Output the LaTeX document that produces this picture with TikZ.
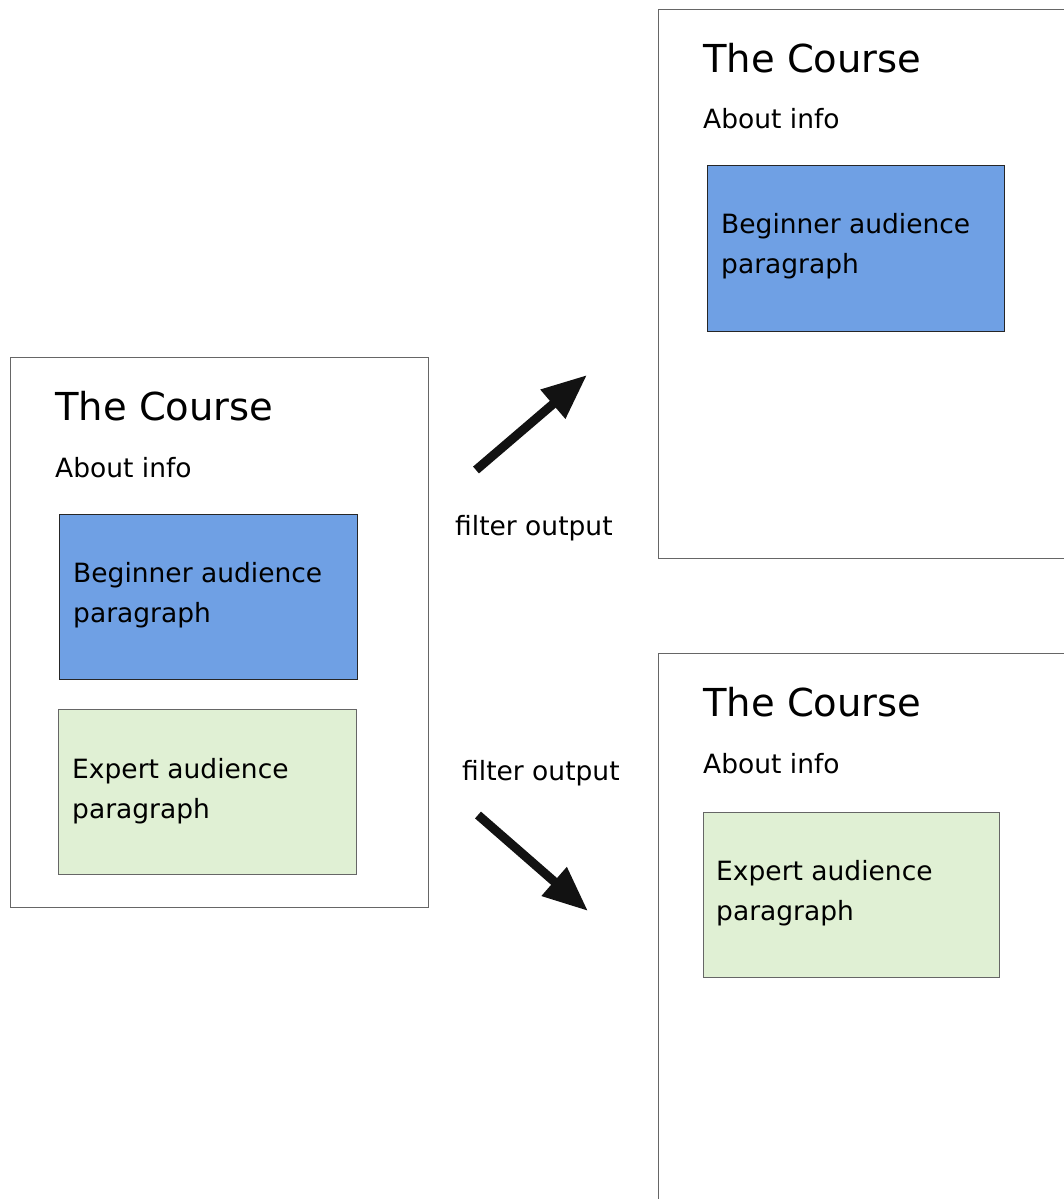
\documentclass[tikz,border=0pt]{standalone}
\usepackage{fontspec}
\setmainfont{DejaVu Sans}
\usetikzlibrary{arrows.meta}
\definecolor{boxgray}{RGB}{102,102,102}
\definecolor{bluefill}{RGB}{111,160,228}
\definecolor{greenfill}{RGB}{224,240,212}
\begin{document}
\begin{tikzpicture}[x=1pt,y=-1pt,
  pagebox/.style={draw=boxgray,line width=1.4pt,fill=white,rectangle,inner sep=0pt,anchor=north west},
  beginnerbox/.style={draw=black!85,line width=1.2pt,fill=bluefill,rectangle,inner sep=0pt,anchor=north west,minimum width=298pt,minimum height=165pt},
  expertbox/.style={draw=boxgray,line width=1.2pt,fill=greenfill,rectangle,inner sep=0pt,anchor=north west,minimum width=298pt,minimum height=165pt},
  titletext/.style={anchor=base west,inner sep=0pt,font=\fontsize{38.5}{46}\selectfont},
  abouttext/.style={anchor=base west,inner sep=0pt,font=\fontsize{26.5}{40}\selectfont},
  paratext/.style={anchor=base west,inner sep=0pt,align=left,font=\fontsize{26.5}{40}\selectfont},
  bigarrow/.style={line width=9pt,draw=black!93,-{Triangle[length=45pt,width=36pt]}},
  ]
\useasboundingbox (0,0) rectangle (1064,1199);
\clip (0,0) rectangle (1064,1199);
% left original page
\node[pagebox,minimum width=418pt,minimum height=550pt] (left) at (10,357) {};
\node[titletext] (ltitle) at (55,420) {The Course};
\node[abouttext] (labout) at (55,477) {About info};
\node[beginnerbox] (lbeg) at (59,514) {};
\node[paratext] (lbegtext) at (73,622) {Beginner audience\\paragraph};
\node[expertbox] (lexp) at (58,709) {};
\node[paratext] (lexptext) at (72,818) {Expert audience\\paragraph};
% top right page
\node[pagebox,minimum width=430pt,minimum height=549pt] (tr) at (658,9) {};
\node[titletext] (trtitle) at (703,72) {The Course};
\node[abouttext] (trabout) at (703,128) {About info};
\node[beginnerbox,minimum width=297pt,minimum height=166pt] (trbeg) at (707,165) {};
\node[paratext] (trbegtext) at (721,273) {Beginner audience\\paragraph};
% bottom right page
\node[pagebox,minimum width=430pt,minimum height=580pt] (br) at (658,653) {};
\node[titletext] (brtitle) at (703,716) {The Course};
\node[abouttext] (brabout) at (703,773) {About info};
\node[expertbox,minimum width=296pt] (brexp) at (703,812) {};
\node[paratext] (brexptext) at (716,920) {Expert audience\\paragraph};
% arrows and labels
\coordinate (a1s) at (476,470);
\coordinate (a1e) at (587,375);
\draw[bigarrow] (a1s) -- (a1e);
\node[abouttext] (f1) at (455,535) {filter output};
\node[abouttext] (f2) at (462,780) {filter output};
\coordinate (a2s) at (478,815);
\coordinate (a2e) at (588,911);
\draw[bigarrow] (a2s) -- (a2e);
\end{tikzpicture}
\end{document}
